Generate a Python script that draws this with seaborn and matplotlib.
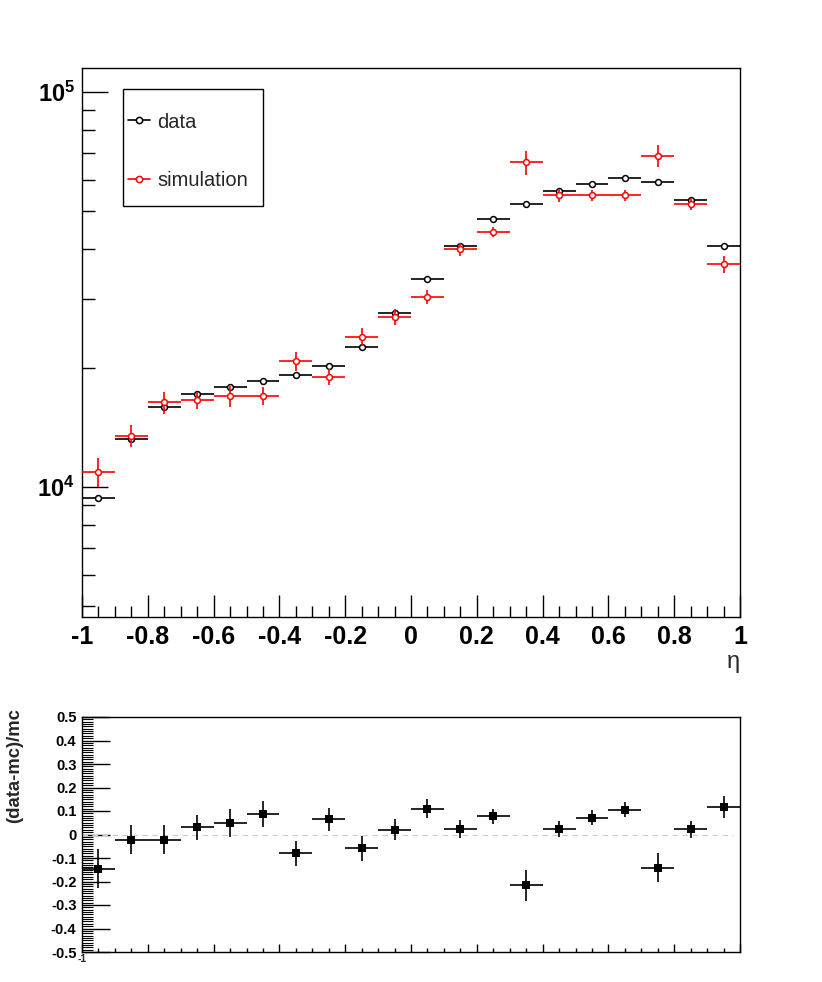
import numpy as np
import pandas as pd
import matplotlib
matplotlib.use("Agg")
import matplotlib.pyplot as plt
import seaborn as sns
from matplotlib.ticker import MultipleLocator, FixedLocator, NullFormatter, FuncFormatter, LogLocator
from matplotlib.lines import Line2D
from matplotlib.patches import Rectangle

# ---------------- data ----------------
eta_centers = [-0.95, -0.85, -0.75, -0.65, -0.55, -0.45, -0.35, -0.25, -0.15, -0.05,
               0.05, 0.15, 0.25, 0.35, 0.45, 0.55, 0.65, 0.75, 0.85, 0.95]
bin_half_width = 0.05

data_counts = [9360, 13210, 15970, 17170, 17880, 18580, 19180, 20250, 22620, 27620,
               33680, 40820, 47610, 52150, 56060, 58590, 60580, 59180, 53190, 40820]
data_err = [90, 110, 120, 120, 125, 130, 130, 135, 140, 160,
            175, 190, 210, 220, 230, 240, 240, 240, 230, 190]

sim_counts = [10930, 13490, 16380, 16610, 17000, 17020, 20850, 18990, 23970, 26940,
              30320, 39970, 44140, 66370, 54770, 54770, 54770, 68970, 52150, 36620]
sim_err = [916, 851, 1034, 844, 1020, 918, 1124, 906, 1246, 1285,
           1262, 1591, 1307, 4606, 1950, 1786, 1725, 4352, 1857, 1747]

ratio = [-0.145, -0.022, -0.022, 0.031, 0.048, 0.087, -0.080, 0.065, -0.059, 0.021,
         0.110, 0.024, 0.078, -0.217, 0.023, 0.071, 0.106, -0.141, 0.023, 0.116]
ratio_err = [0.083, 0.062, 0.062, 0.053, 0.059, 0.054, 0.054, 0.049, 0.052, 0.046,
             0.039, 0.039, 0.032, 0.068, 0.033, 0.032, 0.031, 0.061, 0.036, 0.047]

x_tick_values = [-1, -0.8, -0.6, -0.4, -0.2, 0, 0.2, 0.4, 0.6, 0.8, 1]
legend_labels = ["data", "simulation"]
legend_colors = ["black", "red"]

df = pd.DataFrame({"eta": eta_centers, "data": data_counts, "data_err": data_err,
                   "sim": sim_counts, "sim_err": sim_err,
                   "ratio": ratio, "ratio_err": ratio_err})

# ---------------- style ----------------
sns.set_style("ticks")
plt.rcParams['font.family'] = ['Liberation Sans', 'DejaVu Sans']
plt.rcParams['mathtext.fontset'] = 'custom'
plt.rcParams['mathtext.rm'] = 'Liberation Sans'
plt.rcParams['mathtext.bf'] = 'Liberation Sans:bold'
plt.rcParams['xtick.direction'] = 'in'
plt.rcParams['ytick.direction'] = 'in'
plt.rcParams['axes.linewidth'] = 1.0
plt.rcParams['axes.edgecolor'] = 'black'
plt.rcParams['xtick.color'] = 'black'
plt.rcParams['ytick.color'] = 'black'

W, H = 822, 982
fig = plt.figure(figsize=(W/100, H/100), dpi=100)
ax1 = fig.add_axes([82/W, 1-617/H, 658/W, 549/H])
ax2 = fig.add_axes([82/W, 1-952/H, 658/W, 235/H])

lw = 1.2

# ---------------- top panel ----------------
ax1.errorbar(df["eta"], df["data"], xerr=bin_half_width, yerr=df["data_err"],
             fmt='none', ecolor='black', elinewidth=lw, capsize=0, zorder=2)
sns.scatterplot(data=df, x="eta", y="data", ax=ax1, marker='o', s=18,
                color='white', edgecolor='black', linewidth=1.1, zorder=3)
ax1.errorbar(df["eta"], df["sim"], xerr=bin_half_width, yerr=df["sim_err"],
             fmt='none', ecolor='red', elinewidth=lw, capsize=0, zorder=4)
sns.scatterplot(data=df, x="eta", y="sim", ax=ax1, marker='o', s=18,
                color='white', edgecolor='red', linewidth=1.1, zorder=5)

ax1.set_yscale('log')
ax1.set_xlim(-1, 1)
ax1.set_ylim(4690, 115000)
ax1.yaxis.set_major_locator(FixedLocator([1e4, 1e5]))
ax1.yaxis.set_major_formatter(FuncFormatter(
    lambda v, p: r'$\mathbf{10^{%d}}$' % int(round(np.log10(v)))))
ax1.yaxis.set_minor_locator(LogLocator(base=10, subs=np.arange(2, 10)))
ax1.yaxis.set_minor_formatter(NullFormatter())
ax1.xaxis.set_major_locator(FixedLocator(x_tick_values))
ax1.xaxis.set_major_formatter(FuncFormatter(lambda v, p: '%g' % v))
ax1.xaxis.set_minor_locator(MultipleLocator(0.05))
ax1.tick_params(axis='x', which='major', length=16, width=1, labelsize=18, pad=6)
ax1.tick_params(axis='x', which='minor', length=8, width=1)
ax1.tick_params(axis='y', which='major', length=19, width=1, labelsize=17, pad=5)
ax1.tick_params(axis='y', which='minor', length=9, width=1)
for lab in ax1.get_xticklabels():
    lab.set_fontweight('bold')
ax1.set_xlabel('η', fontsize=17, loc='right', labelpad=1)
ax1.set_ylabel('')

# legend box (drawn in axes-fraction coordinates)
def ax_frac(px, py):
    return (px - 82) / 658, (617 - py) / 549

x0, y0 = ax_frac(123, 206)
x1, y1 = ax_frac(263, 89)
ax1.add_patch(Rectangle((x0, y0), x1 - x0, y1 - y0, transform=ax1.transAxes,
                        facecolor='white', edgecolor='black', lw=1.0, zorder=10))
for lab, col, py in zip(legend_labels, legend_colors, [120, 179]):
    ha, ya = ax_frac(128, py)
    hb, _ = ax_frac(150, py)
    hm, _ = ax_frac(139, py)
    ax1.add_line(Line2D([ha, hb], [ya, ya], color=col, lw=lw, transform=ax1.transAxes, zorder=11))
    ax1.add_line(Line2D([hm], [ya], color=col, marker='o', ms=4.5, mfc='white', mec=col,
                        mew=1.1, transform=ax1.transAxes, zorder=12))
    tx, _ = ax_frac(157, py)
    ax1.text(tx, ya, lab, transform=ax1.transAxes, fontsize=14.5, ha='left',
             va='center_baseline', zorder=12)

# ---------------- bottom panel ----------------
ax2.axhline(0, color='#cccccc', lw=0.8, ls=(0, (5, 4)), xmax=0.99, zorder=1)
ax2.errorbar(df["eta"], df["ratio"], xerr=bin_half_width, yerr=df["ratio_err"],
             fmt='none', ecolor='black', elinewidth=lw, capsize=0, zorder=2)
sns.scatterplot(data=df, x="eta", y="ratio", ax=ax2, marker='s', s=40,
                color='black', edgecolor='black', linewidth=0, zorder=3)
ax2.set_xlim(-1, 1)
ax2.set_ylim(-0.5, 0.5)
ax2.xaxis.set_major_locator(FixedLocator(x_tick_values))
ax2.xaxis.set_minor_locator(MultipleLocator(0.05))
ax2.xaxis.set_major_formatter(NullFormatter())
ax2.yaxis.set_major_locator(MultipleLocator(0.1))
ax2.yaxis.set_minor_locator(MultipleLocator(0.01))
ax2.yaxis.set_major_formatter(FuncFormatter(lambda v, p: '%g' % round(v, 2)))
ax2.tick_params(axis='x', which='major', length=6, width=1)
ax2.tick_params(axis='x', which='minor', length=3, width=1)
ax2.tick_params(axis='y', which='major', length=20, width=1, labelsize=10.5, pad=4)
ax2.tick_params(axis='y', which='minor', length=8, width=0.8)
for lab in ax2.get_yticklabels():
    lab.set_fontweight('bold')
ax2.set_xlabel('')
ax2.set_ylabel('')

fig.text(15/W, 1-766/H, '(data-mc)/mc', rotation=90, fontsize=13.3,
         fontweight='bold', ha='center', va='center')
fig.text(82/W, 1-959/H, '-1', fontsize=7.5, fontweight='bold', ha='center', va='center')

fig.savefig('out.png', dpi=100)
